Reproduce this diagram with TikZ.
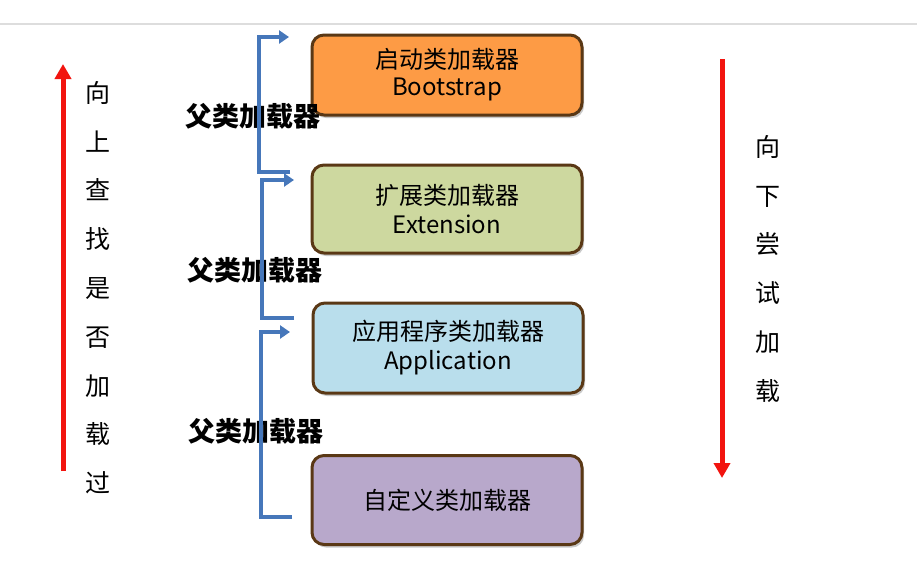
\documentclass[tikz,border=0pt]{standalone}
\usepackage{fontspec}
\setmainfont{Noto Sans CJK SC}
\usetikzlibrary{arrows.meta,shadows}
\definecolor{bordbrown}{HTML}{5A3815}
\definecolor{fillorange}{HTML}{FD9B45}
\definecolor{fillgreen}{HTML}{CDD89F}
\definecolor{fillblue}{HTML}{B9DEEC}
\definecolor{fillpurple}{HTML}{B8A8CB}
\definecolor{bracketblue}{HTML}{4677BA}
\definecolor{arrowred}{HTML}{F2140F}
\definecolor{rulegray}{HTML}{DDDDDD}
\tikzset{
  loaderbox/.style={draw=bordbrown, line width=3pt, rounded corners=12pt,
    minimum width=270pt, align=center, inner sep=0pt,
    font=\fontsize{24}{29}\selectfont,
    drop shadow={shadow xshift=2pt, shadow yshift=-3pt, opacity=0.35, fill=black!60}},
  bracket/.style={draw=bracketblue, line width=4pt},
  bracketarrow/.style={bracket, -{Triangle[length=10pt,width=13pt]}},
  parentlabel/.style={font=\fontsize{27}{30}\selectfont\bfseries, inner sep=0pt},
  redarrow/.style={draw=arrowred, line width=5pt, -{Triangle[length=15pt,width=16pt]}},
  vlabel/.style={font=\fontsize{25}{48.8}\selectfont, align=center, inner sep=0pt}
}
\begin{document}
\begin{tikzpicture}[x=1pt,y=-1pt]
\useasboundingbox (0,0) rectangle (917,570);
\fill[white] (0,0) rectangle (917,570);
% top rule
\coordinate (ruleL) at (0,24);
\coordinate (ruleR) at (917,24);
\draw[rulegray, line width=2pt] (ruleL) -- (ruleR);

% boxes
\node[loaderbox, fill=fillorange, minimum height=80pt] (boot) at (447,75) {\raisebox{-2pt}{启动类加载器}\\Bootstrap};
\node[loaderbox, fill=fillgreen, minimum height=88pt] (ext) at (447,209) {扩展类加载器\\Extension};
\node[loaderbox, fill=fillblue, minimum height=90pt] (app) at (448,348) {应用程序类加载器\\Application};
\node[loaderbox, fill=fillpurple, minimum height=89pt] (cust) at (447,500) {自定义类加载器};

% parent labels
\node[parentlabel] (p1) at (253,116) {父类加载器};
\node[parentlabel] (p2) at (255,270) {父类加载器};
\node[parentlabel] (p3) at (256,431) {父类加载器};

% bracket 1
\coordinate (a1end) at (259,172);
\coordinate (a1e) at (290,172);
\coordinate (a1top) at (259,37);
\coordinate (a1tip) at (289,37);
\draw[bracketarrow] (a1e) -- (a1end) -- (a1top) -- (a1tip);
% bracket 2
\coordinate (a2end) at (262,318);
\coordinate (a2e) at (294,318);
\coordinate (a2top) at (262,180);
\coordinate (a2tip) at (294,180);
\draw[bracketarrow] (a2e) -- (a2end) -- (a2top) -- (a2tip);
% bracket 3
\coordinate (a3end) at (261,517);
\coordinate (a3e) at (292,517);
\coordinate (a3top) at (261,332);
\coordinate (a3tip) at (290,332);
\draw[bracketarrow] (a3e) -- (a3end) -- (a3top) -- (a3tip);

% red arrows
\coordinate (upS) at (63,471);
\coordinate (upT) at (63,64);
\draw[redarrow] (upS) -- (upT);
\coordinate (dnS) at (722,59);
\coordinate (dnT) at (722,478);
\draw[redarrow] (dnS) -- (dnT);

% vertical labels
\node[vlabel, anchor=north] (lup) at (98,81) {向\\上\\查\\找\\是\\否\\加\\载\\过};
\node[vlabel, anchor=north] (ldn) at (768,135) {向\\下\\尝\\试\\加\\载};
\end{tikzpicture}
\end{document}
